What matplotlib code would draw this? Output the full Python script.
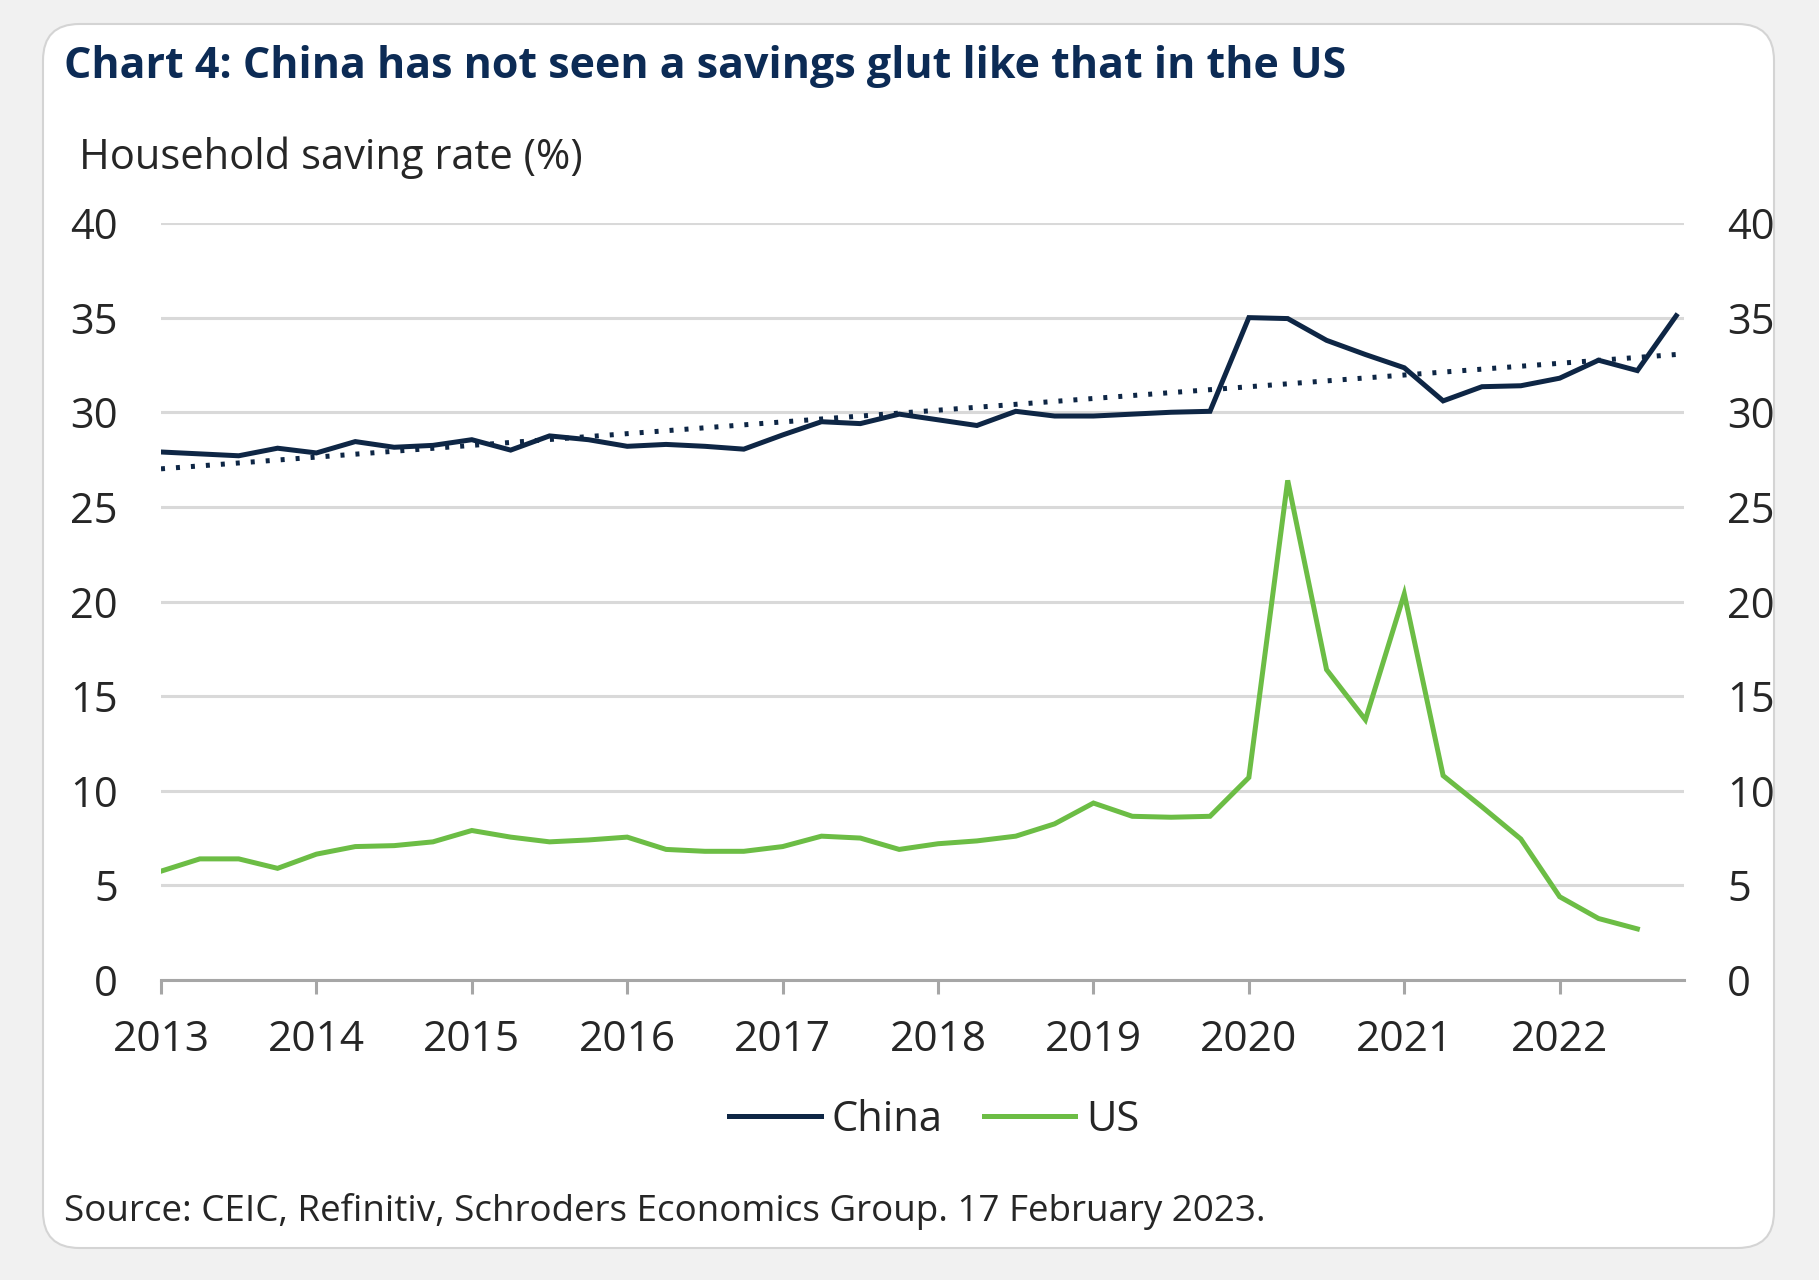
import matplotlib
matplotlib.use("Agg")
import matplotlib.pyplot as plt
from matplotlib.patches import FancyBboxPatch
import numpy as np

plt.rcParams['font.family'] = ['Open Sans', 'DejaVu Sans']

# ---- data (quarterly, starting 2013 Q1) ----
start_year = 2013
china = [27.9, 27.8, 27.7, 28.1, 27.85, 28.45, 28.15, 28.25, 28.55, 28.0,
         28.75, 28.55, 28.2, 28.3, 28.2, 28.05, 28.8, 29.5, 29.4, 29.9,
         29.6, 29.3, 30.05, 29.8, 29.8, 29.9, 30.0, 30.05, 35.0, 34.95,
         33.8, 33.05, 32.35, 30.6, 31.35, 31.4, 31.8, 32.75, 32.2, 35.1]
us = [5.75, 6.4, 6.4, 5.9, 6.65, 7.05, 7.1, 7.3, 7.9, 7.55,
      7.3, 7.4, 7.55, 6.9, 6.8, 6.8, 7.05, 7.6, 7.5, 6.9,
      7.2, 7.35, 7.6, 8.25, 9.35, 8.65, 8.6, 8.65, 10.7, 26.4,
      16.4, 13.75, 20.4, 10.8, 9.15, 7.45, 4.4, 3.25, 2.7]
year_ticks = list(range(2013, 2023))
y_ticks = [0, 5, 10, 15, 20, 25, 30, 35, 40]

title = "Chart 4: China has not seen a savings glut like that in the US"
ylabel = "Household saving rate (%)"
source = "Source: CEIC, Refinitiv, Schroders Economics Group. 17 February 2023."

x_china = start_year + np.arange(len(china)) / 4.0
x_us = start_year + np.arange(len(us)) / 4.0

W, H = 1819, 1280
fig = plt.figure(figsize=(W / 100, H / 100), dpi=100)
fig.patch.set_facecolor('#f1f1f1')

# card
card = FancyBboxPatch((43 / W, 1 - 1248 / H), (1774 - 43) / W, (1248 - 24) / H,
                      boxstyle="round,pad=0,rounding_size=0.02",
                      transform=fig.transFigure, facecolor='white',
                      edgecolor='#d4d4d4', linewidth=1.5, zorder=-10,
                      mutation_aspect=W / H)
fig.patches.append(card)

navy = '#0e2645'
green = '#6cbd45'
txt = '#262626'

ax = fig.add_axes([161 / W, 1 - 980 / H, (1684 - 161) / W, (980 - 223) / H])
ax.set_zorder(2)
ax.patch.set_visible(False)
ax.set_xlim(2013, 2022.8)
ax.set_ylim(0, 40)

ax.plot(x_china, china, color=navy, lw=3.6, solid_joinstyle='miter', zorder=4, label='China')
ax.plot(x_us, us, color=green, lw=3.6, solid_joinstyle='miter', zorder=3, label='US')

coef = np.polyfit(x_china, china, 1)
trend = np.polyval(coef, x_china)
ax.plot(x_china, trend, color=navy, lw=3.6, linestyle=(0, (0.8, 2.2)),
        dash_capstyle='butt', zorder=5)

ax.set_yticks(y_ticks)
ax.set_xticks(year_ticks)
ax.set_xticklabels([str(y) for y in year_ticks])
ax.grid(axis='y', color='#d9d9d9', lw=2.2)
ax.set_axisbelow(True)
for s in ['top', 'right', 'left']:
    ax.spines[s].set_visible(False)
ax.spines['bottom'].set_color('#a6a6a6')
ax.spines['bottom'].set_linewidth(2.2)
ax.tick_params(axis='y', length=0, pad=31, labelsize=30, labelcolor=txt)
ax.tick_params(axis='x', length=10, width=2.2, color='#a6a6a6', pad=18,
               labelsize=30.5, labelcolor=txt)

ax2 = ax.twinx()
ax2.set_zorder(1)
ax2.patch.set_visible(False)
ax2.set_ylim(0, 40)
ax2.set_yticks(y_ticks)
for s in ax2.spines.values():
    s.set_visible(False)
ax2.tick_params(axis='y', length=0, pad=31, labelsize=30, labelcolor=txt)

fig.text(64 / W, 1 - 67 / H, title, fontsize=31, fontweight='bold', color='#0c2b55',
         ha='left', va='center')
fig.text(79 / W, 1 - 158 / H, ylabel, fontsize=30, color=txt, ha='left', va='center')
fig.text(64 / W, 1 - 1212 / H, source, fontsize=26.5, color=txt, ha='left', va='center')

fig.legend(loc='center', bbox_to_anchor=(934 / W, 1 - 1120 / H), ncol=2,
           frameon=False, fontsize=30, handlelength=2.2, handletextpad=0.25,
           columnspacing=1.0, labelcolor=txt)

fig.savefig('out.png', dpi=100, facecolor=fig.get_facecolor())
